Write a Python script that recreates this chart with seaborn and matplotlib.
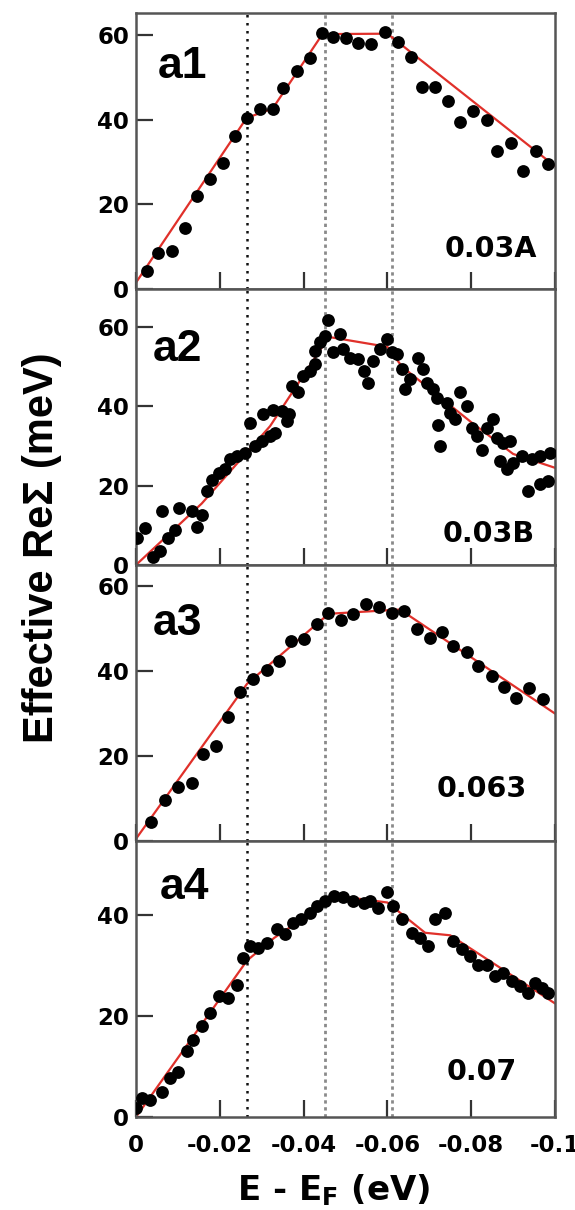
import numpy as np
import pandas as pd
import matplotlib
matplotlib.use("Agg")
import matplotlib.pyplot as plt
import seaborn as sns

# ---------------- data ----------------
a1_x = [-0.0026, -0.0053, -0.0085, -0.0117, -0.0145, -0.0177, -0.0207, -0.0236, -0.0264, -0.0296,
        -0.0326, -0.0352, -0.0385, -0.0415, -0.0443, -0.0471, -0.0502, -0.0531, -0.0562, -0.0594,
        -0.0626, -0.0656, -0.0682, -0.0714, -0.0745, -0.0773, -0.0805, -0.0837, -0.0862, -0.0894,
        -0.0923, -0.0955, -0.0984]
a1_y = [4.3, 8.6, 9.0, 14.3, 22.0, 25.9, 29.8, 36.1, 40.4, 42.4,
        42.4, 47.5, 51.4, 54.5, 60.4, 59.6, 59.3, 58.2, 57.9, 60.8,
        58.4, 54.7, 47.7, 47.7, 44.3, 39.4, 42.0, 39.8, 32.5, 34.5,
        27.8, 32.5, 29.4]
a1_fit_x = [0.0, -0.0264, -0.0326, -0.0445, -0.0600, -0.1]
a1_fit_y = [1.5, 40.4, 42.6, 60.2, 60.3, 29.0]

a2_x = [-0.0002, -0.0021, -0.0061, -0.0103, -0.0133, -0.0157, -0.0145, -0.0093, -0.0077, -0.0057,
        -0.0040, -0.0169, -0.0181, -0.0197, -0.0212, -0.0224, -0.0240, -0.0260, -0.0272, -0.0284,
        -0.0300, -0.0304, -0.0320, -0.0332, -0.0328, -0.0348, -0.0360, -0.0364, -0.0372, -0.0387,
        -0.0399, -0.0415, -0.0427, -0.0427, -0.0439, -0.0451, -0.0458, -0.0471, -0.0487, -0.0495,
        -0.0511, -0.0531, -0.0543, -0.0554, -0.0566, -0.0582, -0.0598, -0.0610, -0.0622, -0.0634,
        -0.0642, -0.0654, -0.0674, -0.0686, -0.0694, -0.0710, -0.0718, -0.0721, -0.0726, -0.0742,
        -0.0749, -0.0761, -0.0773, -0.0789, -0.0801, -0.0813, -0.0825, -0.0837, -0.0853, -0.0861,
        -0.0869, -0.0877, -0.0885, -0.0893, -0.0900, -0.0921, -0.0936, -0.0944, -0.0964, -0.0964,
        -0.0984, -0.0988]
a2_y = [6.7, 9.3, 13.5, 14.3, 13.5, 12.7, 9.5, 8.9, 6.7, 3.4,
        2.0, 18.6, 21.5, 23.2, 24.1, 26.6, 27.4, 28.3, 35.9, 29.9,
        31.2, 38.0, 32.5, 33.3, 39.2, 38.8, 36.3, 38.0, 45.1, 43.5,
        47.7, 48.9, 50.6, 54.0, 56.1, 57.8, 61.7, 53.6, 58.2, 54.4,
        52.3, 51.9, 48.9, 46.0, 51.5, 54.4, 57.0, 53.6, 53.2, 49.4,
        44.3, 46.8, 52.3, 49.4, 46.0, 44.3, 42.2, 35.4, 29.9, 40.9,
        38.4, 36.7, 43.5, 40.1, 34.6, 32.5, 29.1, 34.6, 36.7, 32.1,
        26.2, 30.8, 24.1, 31.2, 25.8, 27.4, 18.6, 26.6, 20.3, 27.4,
        21.1, 28.3]
a2_fit_x = [0.0, -0.0157, -0.032, -0.046, -0.060, -0.0635, -0.080, -0.090, -0.1]
a2_fit_y = [0.0, 15.5, 35.0, 57.5, 55.0, 50.0, 36.0, 28.0, 24.5]

a3_x = [-0.0037, -0.0069, -0.0101, -0.0133, -0.0161, -0.0191, -0.0220, -0.0248, -0.0280, -0.0312,
        -0.0342, -0.0369, -0.0401, -0.0431, -0.0459, -0.0489, -0.0519, -0.0549, -0.0581, -0.0610,
        -0.0640, -0.0670, -0.0702, -0.0730, -0.0757, -0.0789, -0.0817, -0.0849, -0.0878, -0.0907,
        -0.0939, -0.0971]
a3_y = [4.4, 9.6, 12.6, 13.6, 20.5, 22.4, 29.1, 35.0, 38.1, 40.2,
        42.3, 47.0, 47.5, 51.1, 53.8, 52.0, 53.4, 55.9, 55.1, 53.8,
        54.2, 49.9, 47.8, 49.1, 46.0, 44.4, 41.2, 38.9, 36.3, 33.6,
        36.0, 33.4]
a3_fit_x = [0.0, -0.0265, -0.046, -0.063, -0.1]
a3_fit_y = [0.5, 37.0, 53.5, 54.5, 30.0]

a4_x = [0.0, -0.0014, -0.0033, -0.0061, -0.0081, -0.0101, -0.0121, -0.0137, -0.0157, -0.0177,
        -0.0197, -0.0220, -0.0240, -0.0256, -0.0272, -0.0292, -0.0312, -0.0336, -0.0356, -0.0375,
        -0.0395, -0.0415, -0.0431, -0.0451, -0.0473, -0.0495, -0.0519, -0.0543, -0.0558, -0.0578,
        -0.0598, -0.0614, -0.0634, -0.0658, -0.0678, -0.0698, -0.0714, -0.0737, -0.0757, -0.0777,
        -0.0797, -0.0817, -0.0837, -0.0857, -0.0877, -0.0897, -0.0916, -0.0936, -0.0952, -0.0968,
        -0.0984]
a4_y = [1.7, 3.7, 3.4, 5.0, 7.7, 9.0, 13.0, 15.3, 18.0, 20.6,
        23.9, 23.6, 26.2, 31.5, 33.9, 33.5, 34.5, 37.2, 36.2, 38.5,
        39.2, 40.5, 41.8, 42.8, 43.8, 43.5, 42.8, 42.5, 42.8, 41.5,
        44.5, 41.8, 39.2, 36.5, 35.5, 33.9, 39.2, 40.5, 34.9, 33.2,
        31.9, 30.2, 30.2, 27.9, 28.6, 26.9, 25.9, 24.6, 26.6, 25.6,
        24.6]
a4_fit_x = [0.0, -0.0265, -0.033, -0.048, -0.060, -0.069, -0.075, -0.1]
a4_fit_y = [0.0, 31.0, 35.5, 43.8, 42.5, 36.5, 36.0, 22.5]

panel_names = ["a1", "a2", "a3", "a4"]
panel_tags = ["0.03A", "0.03B", "0.063", "0.07"]
panel_ymax = [65.2, 69.6, 65.0, 54.7]
vlines_x = [-0.0265, -0.045, -0.061]
xticks = [0, -0.02, -0.04, -0.06, -0.08, -0.1]
xtick_labels = ["0", "-0.02", "-0.04", "-0.06", "-0.08", "-0.1"]

pts = [(a1_x, a1_y), (a2_x, a2_y), (a3_x, a3_y), (a4_x, a4_y)]
fits = [(a1_fit_x, a1_fit_y), (a2_fit_x, a2_fit_y), (a3_fit_x, a3_fit_y), (a4_fit_x, a4_fit_y)]

# ---------------- style ----------------
sns.set_theme(style="ticks")
plt.rcParams['font.family'] = ['Liberation Sans', 'DejaVu Sans']
plt.rcParams['font.weight'] = 'bold'
plt.rcParams['text.color'] = 'black'
plt.rcParams['axes.labelcolor'] = 'black'
plt.rcParams['xtick.color'] = 'black'
plt.rcParams['ytick.color'] = 'black'
plt.rcParams['mathtext.fontset'] = 'custom'
plt.rcParams['mathtext.rm'] = 'DejaVu Sans:bold'
plt.rcParams['mathtext.it'] = 'DejaVu Sans:bold'
plt.rcParams['mathtext.bf'] = 'DejaVu Sans:bold'
plt.rcParams['mathtext.default'] = 'rm'

spine_col = "#555555"
fig, axes = plt.subplots(4, 1, figsize=(5.75, 12.1), dpi=100, sharex=True)
fig.subplots_adjust(left=0.2365, right=0.9652, top=0.9893, bottom=0.0769, hspace=0)

name_pos = [(0.053, 0.765), (0.041, 0.738), (0.040, 0.747), (0.057, 0.790)]
tag_pos = [(0.957, 0.115), (0.952, 0.084), (0.934, 0.159), (0.910, 0.135)]
tick_font = dict(family="DejaVu Sans", weight="bold", size=16.5)

for i, ax in enumerate(axes):
    px, py = pts[i]
    fx, fy = fits[i]
    df_fit = pd.DataFrame({"E": fx, "S": fy})
    df_pts = pd.DataFrame({"E": px, "S": py})
    for j, vx in enumerate(vlines_x):
        if j == 0:
            ax.axvline(vx, color="#111111", ls=(0, (1, 2.2)), lw=1.8, zorder=1)
        else:
            ax.axvline(vx, color="#8a8a8a", ls=(0, (1.2, 1.3)), lw=2.0, zorder=1)
    sns.lineplot(data=df_fit, x="E", y="S", ax=ax, color="#e0302a", lw=1.6,
                 sort=False, zorder=2, legend=False)
    sns.scatterplot(data=df_pts, x="E", y="S", ax=ax, color="black", s=85,
                    edgecolor="black", linewidth=0, zorder=3, legend=False)
    ax.set_xlim(0, -0.1)
    ax.set_ylim(0, panel_ymax[i])
    yt = [0, 20, 40, 60] if i < 3 else [0, 20, 40]
    ax.set_yticks(yt)
    ax.set_yticklabels([str(v) for v in yt], fontdict=tick_font)
    ax.set_xticks(xticks)
    ax.set_xticklabels(xtick_labels, fontdict=tick_font)
    ax.set_xlabel("")
    ax.set_ylabel("")
    for sp in ax.spines.values():
        sp.set_color(spine_col)
        sp.set_linewidth(1.8)
        sp.set_visible(True)
    ax.tick_params(axis="both", direction="in", length=12, width=1.6,
                   color="#333333")
    ax.tick_params(axis="x", top=False, pad=12)
    ax.tick_params(axis="y", right=False, pad=5)
    ax.text(name_pos[i][0], name_pos[i][1], panel_names[i], transform=ax.transAxes,
            fontsize=32, fontweight="bold", ha="left", va="baseline",
            family="Liberation Sans")
    ax.text(tag_pos[i][0], tag_pos[i][1], panel_tags[i], transform=ax.transAxes,
            fontsize=20.5, fontweight="bold", ha="right", va="baseline",
            family="DejaVu Sans")

fig.text(0.073, 0.547, "Effective ReΣ (meV)", rotation=90, fontsize=30,
         fontweight="bold", ha="center", va="center", family="Liberation Sans")
fig.text(0.581, 0.0083, "E - E$_{F}$ (eV)", fontsize=24.5, fontweight="bold",
         ha="center", va="baseline", family="DejaVu Sans")

fig.savefig("out.png", dpi=100)
